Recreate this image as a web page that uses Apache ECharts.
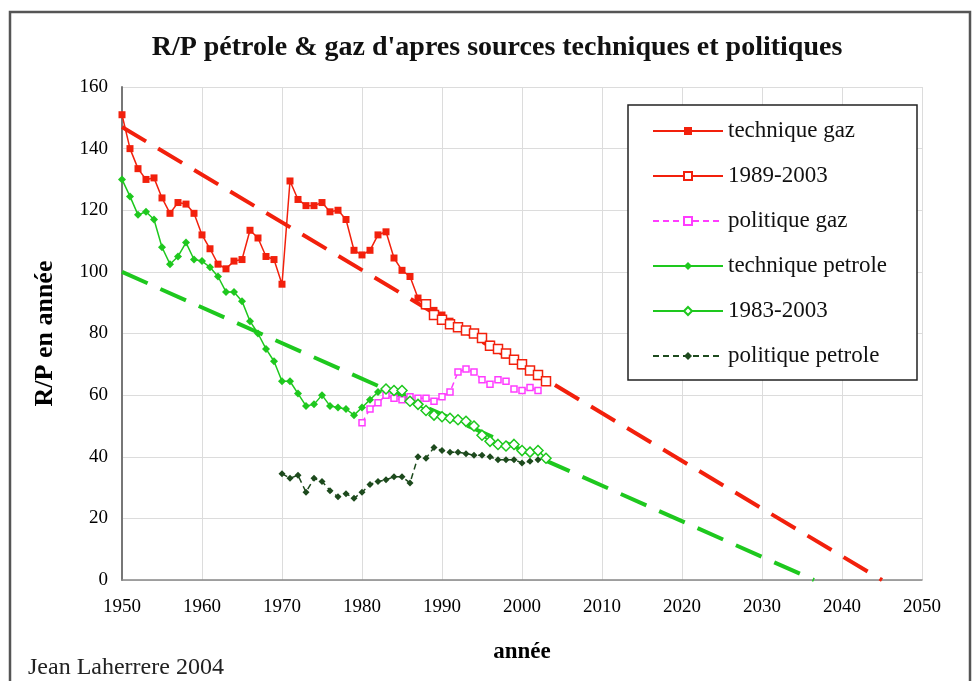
<!doctype html>
<html>
<head>
<meta charset="utf-8">
<title>R/P pétrole & gaz</title>
<script src="https://cdn.jsdelivr.net/npm/echarts@6/dist/echarts.min.js"></script>
<style>
html,body{margin:0;padding:0;background:#fff;}
#chart{width:973px;height:681px;}
</style>
</head>
<body>
<div id="chart"></div>
<script type="text/javascript">
// annees des series
function years(from, to){
	var out = [];
	for(var y=from;y<=to;y++){ out.push(y); }
	return out;
}
var gazYears = years(1950, 2003);
var gazTech = [151,140,133.5,130,130.5,124,119,122.5,122,119,
	112,107.5,102.5,101,103.5,104,113.5,111,105,104,
	96,129.5,123.5,121.5,121.5,122.5,119.5,120,117,107,
	105.5,107,112,113,104.5,100.5,98.5,91.5,89,87.5,
	86,84,82.5,81,80,78.5,76.5,75,73,71.5,
	69.5,68,66,65];
var gazRecentYears = years(1988, 2003);
var gazRecent = [89.5,86,84.5,83,82,81,80,78.5,76,75,73.5,71.5,70,68,66.5,64.5];
var gazPolYears = years(1980, 2002);
var gazPol = [51,55.5,57.5,60,59,58.5,59.5,59,59,58,59.5,61,67.5,68.5,67.5,65,63.5,65,64.5,62,61.5,62.5,61.5];
var petYears = years(1950, 2002);
var petTech = [130,124.5,118.5,119.5,117,108,102.5,105,109.5,104,
	103.5,101.5,98.5,93.5,93.5,90.5,84,80,75,71,
	64.5,64.5,60.5,56.5,57,60,56.5,56,55.5,53.5,
	56,58.5,61,62,61,60.5,58,57,55,53.5,
	53,52.5,52,51,49.5,47,45,44,43.5,43.5,
	42,41.5,41.5];
var petRecentYears = years(1983, 2003);
var petRecent = [62,61.5,61.5,58,57,55,53.5,53,52.5,52,51.5,50,47,45,44,43.5,44,42,41.5,42,39.5];
var petPolYears = years(1970, 2002);
var petPol = [34.5,33,34,28.5,33,32,29,27,28,26.5,28.5,31,32,32.5,33.5,33.5,31.5,
	40,39.5,43,42,41.5,41.5,41,40.5,40.5,40,39,39,39,38,38.5,39];
// droites de tendance (debut, zero)
var gazTrendX = [1950, 2045];
var gazTrendY = [147, 0];
var petTrendX = [1950, 2036.5];
var petTrendY = [100, 0];

var legendNames = ['technique gaz','1989-2003','politique gaz','technique petrole','1983-2003','politique petrole'];

function pairs(xs, ys){
	var out = [];
	for(var i=0;i<ys.length;i++){ out.push([xs[i], ys[i]]); }
	return out;
}

var serif = 'Liberation Serif';
var red = '#f2200c', magenta = '#ff3cff', green = '#1ec81e', dark = '#1d4a1d';

var chart = echarts.init(document.getElementById('chart'));
var option = {
	animation:false,
	backgroundColor:'#fff',
	grid:{left:122,right:51,top:87,bottom:101},
	legend:{
		data:legendNames,
		orient:'vertical',
		left:647,
		top:114,
		itemWidth:70,
		itemHeight:10,
		itemGap:21,
		z:6,
		textStyle:{fontFamily:serif,fontSize:23,color:'#111',lineHeight:24}
	},
	xAxis:{
		type:'value',min:1950,max:2050,interval:10,
		name:'année',nameLocation:'middle',nameGap:61,
		nameTextStyle:{fontFamily:serif,fontSize:23,fontWeight:'bold',color:'#000'},
		axisLine:{onZero:false,lineStyle:{color:'#888',width:1.5}},
		axisTick:{show:false},
		axisLabel:{fontFamily:serif,fontSize:19,color:'#000',margin:18,formatter:function(v){return String(v);}},
		splitLine:{lineStyle:{color:'#dcdcdc'}}
	},
	yAxis:{
		type:'value',min:0,max:160,interval:20,
		name:'R/P en année',nameLocation:'middle',nameGap:64,
		nameTextStyle:{fontFamily:serif,fontSize:26,fontWeight:'bold',color:'#000'},
		axisLine:{show:true,lineStyle:{color:'#777',width:2}},
		axisTick:{show:false},
		axisLabel:{fontFamily:serif,fontSize:19,color:'#000',margin:14},
		splitLine:{lineStyle:{color:'#dcdcdc'}}
	},
	graphic:[
		{type:'rect',shape:{x:10,y:12,width:960,height:690},style:{fill:'none',stroke:'#555',lineWidth:2.5},silent:true},
		{type:'rect',shape:{x:628,y:105,width:289,height:275},style:{fill:'#fff',stroke:'#222',lineWidth:1.5},z:5,silent:true},
		{type:'text',x:497,y:48,style:{text:"R/P pétrole & gaz d'apres sources techniques et politiques",font:'bold 28px "Liberation Serif"',fill:'#111',textAlign:'center',textVerticalAlign:'middle'}},
		{type:'text',x:28,y:668,style:{text:'Jean Laherrere 2004',font:'24px "Liberation Serif"',fill:'#222',textVerticalAlign:'middle'}}
	],
	series:[
		{
			name:'tendance gaz',type:'line',data:pairs(gazTrendX,gazTrendY),
			symbol:'none',lineStyle:{color:red,width:4,type:[28,14]},z:1
		},
		{
			name:'tendance petrole',type:'line',data:pairs(petTrendX,petTrendY),
			symbol:'none',lineStyle:{color:green,width:4,type:[28,14]},z:1
		},
		{
			name:'technique gaz',type:'line',data:pairs(gazYears,gazTech),
			symbol:'rect',symbolSize:7,
			itemStyle:{color:red},lineStyle:{color:red,width:1.5},z:3
		},
		{
			name:'1989-2003',type:'line',data:pairs(gazRecentYears,gazRecent),
			symbol:'rect',symbolSize:9,
			itemStyle:{color:'#fff',borderColor:red,borderWidth:1.5},lineStyle:{color:red,width:1.5},z:3
		},
		{
			name:'politique gaz',type:'line',data:pairs(gazPolYears,gazPol),
			symbol:'rect',symbolSize:6,
			itemStyle:{color:'#fff',borderColor:magenta,borderWidth:1.5},lineStyle:{color:magenta,width:1.5,type:[6,4]},z:3
		},
		{
			name:'technique petrole',type:'line',data:pairs(petYears,petTech),
			symbol:'diamond',symbolSize:8,
			itemStyle:{color:green},lineStyle:{color:green,width:1.5},z:3
		},
		{
			name:'1983-2003',type:'line',data:pairs(petRecentYears,petRecent),
			symbol:'diamond',symbolSize:10,
			itemStyle:{color:'#fff',borderColor:green,borderWidth:1.5},lineStyle:{color:green,width:1.5},z:3
		},
		{
			name:'politique petrole',type:'line',data:pairs(petPolYears,petPol),
			symbol:'diamond',symbolSize:7,
			itemStyle:{color:dark},lineStyle:{color:dark,width:1.5,type:[6,4]},z:3
		}
	]
};
chart.setOption(option);
</script>
</body>
</html>
